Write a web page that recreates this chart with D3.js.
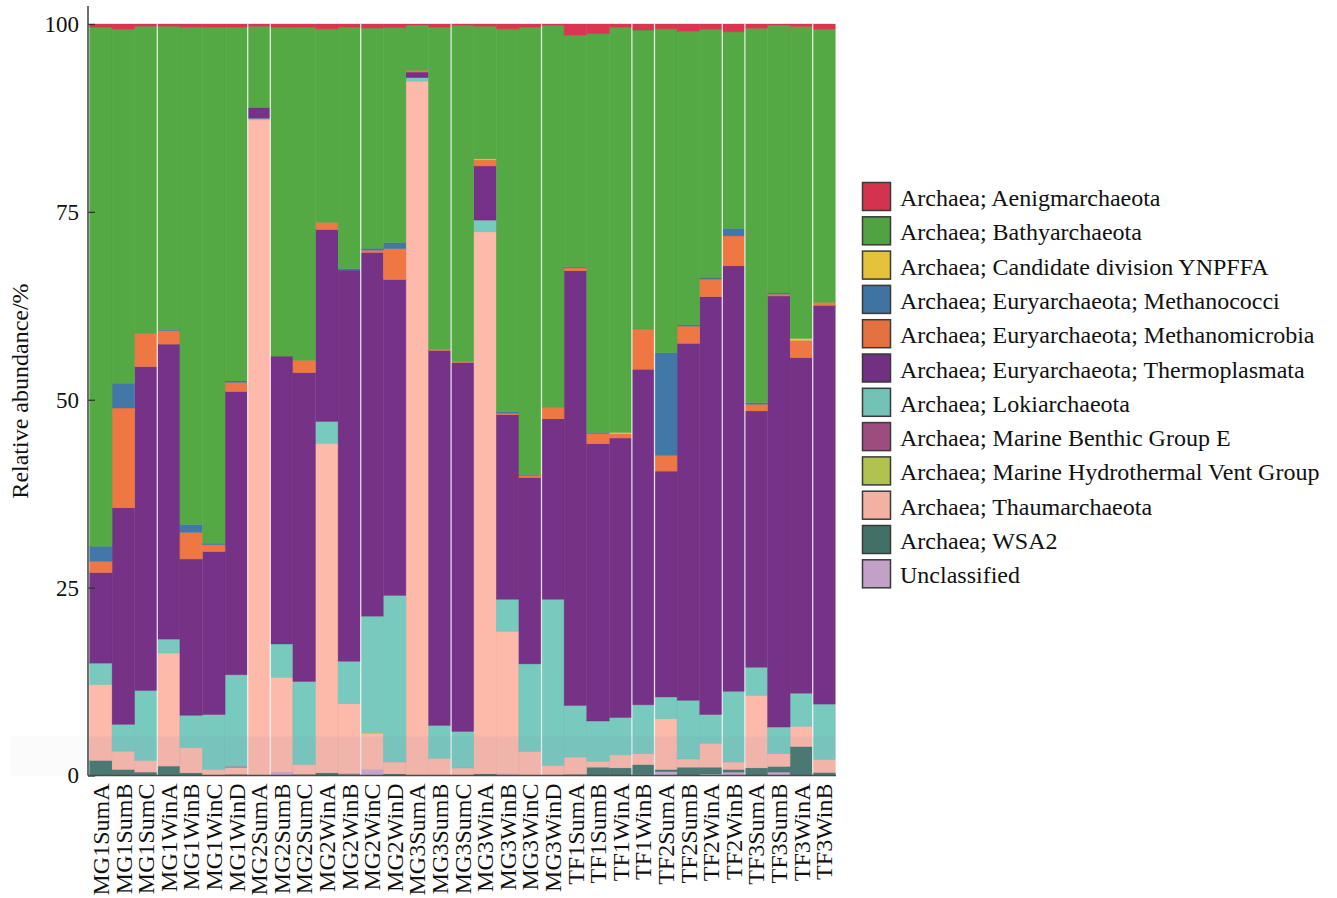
<!DOCTYPE html>
<html>
<head>
<meta charset="utf-8">
<script src="https://cdn.jsdelivr.net/npm/d3@7"></script>
<style>
  html, body { margin: 0; padding: 0; background: #fff; }
  svg { display: block; }
  text { font-family: "Liberation Serif", "Times New Roman", serif; fill: #111; }
</style>
</head>
<body>
<svg id="chart" width="1337" height="898"></svg>
<script>
// Samples along the x axis
const samples = [
  "MG1SumA","MG1SumB","MG1SumC","MG1WinA","MG1WinB","MG1WinC","MG1WinD",
  "MG2SumA","MG2SumB","MG2SumC","MG2WinA","MG2WinB","MG2WinC","MG2WinD",
  "MG3SumA","MG3SumB","MG3SumC","MG3WinA","MG3WinB","MG3WinC","MG3WinD",
  "TF1SumA","TF1SumB","TF1WinA","TF1WinB",
  "TF2SumA","TF2SumB","TF2WinA","TF2WinB",
  "TF3SumA","TF3SumB","TF3WinA","TF3WinB"
];

// Taxa in legend order (top of stack first)
const taxa = [
  "Archaea; Aenigmarchaeota",
  "Archaea; Bathyarchaeota",
  "Archaea; Candidate division YNPFFA",
  "Archaea; Euryarchaeota; Methanococci",
  "Archaea; Euryarchaeota; Methanomicrobia",
  "Archaea; Euryarchaeota; Thermoplasmata",
  "Archaea; Lokiarchaeota",
  "Archaea; Marine Benthic Group E",
  "Archaea; Marine Hydrothermal Vent Group",
  "Archaea; Thaumarchaeota",
  "Archaea; WSA2",
  "Unclassified"
];

const taxonColors = [
  "#dc3551", "#55a945", "#efca3f", "#4278a8", "#ee7744", "#763287",
  "#77cabd", "#a44f85", "#bacb52", "#fdb9aa", "#44766a", "#c9a8cf"
];

// Relative abundance (%) per taxon, one value per sample
const aenigmarchaeota = [0.4,0.7,0.3,0.3,0.45,0.4,0.4,0.3,0.4,0.4,0.65,0.4,0.55,0.5,0.15,0.4,0.2,0.3,0.65,0.4,0.2,1.5,1.3,0.4,0.8,0.65,1.0,0.7,1.05,0.6,0.15,0.35,0.7];
const bathyarchaeota = [69.1,47.1,40.9,40.35,66.15,68.7,47.1,10.8,43.8,44.35,25.75,32.15,29.3,28.6,6.05,42.9,44.7,17.65,50.95,59.55,50.85,30.8,53.05,53.95,39.8,43.1,39.0,33.1,26.15,49.8,35.65,41.5,36.35];
const ynpffa = [0,0,0,0,0,0,0,0,0,0,0,0,0,0,0,0,0,0.15,0,0,0,0,0,0.15,0,0,0,0,0,0,0,0.25,0];
const methanococci = [2.0,3.3,0,0.15,1.05,0.2,0.2,0,0,0,0,0.2,0.25,0.8,0,0,0,0,0.2,0.15,0,0.15,0.15,0,0,13.65,0.2,0.15,1.0,0.2,0.15,0,0];
const methanomicrobia = [1.5,13.3,4.4,1.8,3.55,0.9,1.2,0,0,1.65,0.95,0,0.3,4.1,0.2,0.15,0.15,0.8,0.2,0.25,1.5,0.4,1.35,0.6,5.35,2.1,2.3,2.35,4.0,0.9,0.25,2.3,0.4];
const thermoplasmata = [12.05,28.8,43.1,39.25,20.8,21.7,37.7,1.45,38.3,41.1,25.55,52.05,48.4,42.05,0.75,49.9,49.1,7.2,24.55,24.8,24.0,57.85,36.9,37.2,44.65,30.05,47.5,55.6,56.6,34.1,57.35,44.65,53.05];
const lokiarchaeota = [2.85,3.55,9.3,1.85,4.3,7.3,12.2,0.2,4.45,11.05,2.9,5.65,15.45,22.15,0.45,4.35,4.85,1.55,4.25,11.65,22.1,6.85,5.35,4.95,6.5,2.9,7.8,3.8,9.4,3.75,3.55,4.4,7.35];
const marineBenthicE = [0,0,0,0,0,0,0.1,0,0,0,0,0,0,0,0,0,0,0,0,0,0,0,0,0,0,0,0,0,0,0,0,0,0];
const marineHydrothermal = [0,0,0,0,0,0,0,0,0,0,0,0,0.15,0,0,0,0,0,0,0,0,0,0,0,0,0,0,0,0,0,0,0,0];
const thaumarchaeota = [10.1,2.45,1.55,15.05,3.35,0.8,0.95,87.25,12.6,1.3,43.85,9.3,4.8,1.6,92.4,2.3,1.0,72.15,18.95,3.2,1.35,2.3,0.8,1.75,1.45,6.75,1.1,3.2,1.0,9.65,1.7,2.7,1.75];
const wsa2 = [2.0,0.8,0.45,1.25,0.35,0,0.15,0,0,0.15,0.35,0.1,0,0.2,0,0,0,0.2,0,0,0,0.15,1.1,1.0,1.35,0.3,1.1,0.9,0.35,1.0,0.75,3.85,0.4];
const unclassified = [0,0,0,0,0,0,0,0,0.45,0,0,0.15,0.8,0,0,0,0,0,0.25,0,0,0,0,0,0.1,0.5,0,0.2,0.45,0,0.45,0,0];

const yTicks = [0, 25, 50, 75, 100];

// Bar indices after which a thin white separator shows
const separatorsAfter = [3, 7, 8, 12, 16, 20, 24, 25, 28, 29, 32];

const series = [aenigmarchaeota, bathyarchaeota, ynpffa, methanococci, methanomicrobia,
  thermoplasmata, lokiarchaeota, marineBenthicE, marineHydrothermal, thaumarchaeota, wsa2, unclassified];

const rows = samples.map((s, i) => {
  const r = { sample: s };
  taxa.forEach((t, k) => { r[t] = series[k][i]; });
  return r;
});

const svg = d3.select("#chart");
const plot = { left: 89.5, right: 835.3, top: 24, bottom: 775.5 };

const x = d3.scaleBand().domain(samples).range([plot.left, plot.right]).padding(0);
const y = d3.scaleLinear().domain([0, 100]).range([plot.bottom, plot.top]);
const color = d3.scaleOrdinal().domain(taxa).range(taxonColors);

// Stack from the bottom: Unclassified first, Aenigmarchaeota on top
const stackKeys = taxa.slice().reverse();
const stacked = d3.stack().keys(stackKeys)(rows);

const gBars = svg.append("g");
gBars.selectAll("g.layer")
  .data(stacked)
  .join("g")
  .attr("class", "layer")
  .attr("fill", d => color(d.key))
  .attr("stroke", d => d3.color(color(d.key)).darker(0.35))
  .attr("stroke-width", 0.5)
  .attr("stroke-opacity", 0.6)
  .selectAll("rect")
  .data(d => d.filter(p => p[1] - p[0] > 0))
  .join("rect")
  .attr("x", p => x(p.data.sample))
  .attr("width", x.bandwidth())
  .attr("y", p => y(p[1]))
  .attr("height", p => y(p[0]) - y(p[1]));

// Thin white separators between some bars
svg.append("g")
  .selectAll("line")
  .data(separatorsAfter)
  .join("line")
  .attr("x1", i => x(samples[i - 1]) + x.bandwidth())
  .attr("x2", i => x(samples[i - 1]) + x.bandwidth())
  .attr("y1", y(100))
  .attr("y2", y(0))
  .attr("stroke", "#ffffff")
  .attr("stroke-opacity", 0.8)
  .attr("stroke-width", 1.3);

// Faint shaded strip along the base of the plot
svg.append("rect")
  .attr("x", 10).attr("width", 88 - 10)
  .attr("y", y(5.2)).attr("height", y(0) - y(5.2))
  .attr("fill", "rgb(140,140,170)").attr("fill-opacity", 0.03);
svg.append("rect")
  .attr("x", 88).attr("width", plot.right - 88)
  .attr("y", y(5.2)).attr("height", y(0) - y(5.2))
  .attr("fill", "rgb(140,140,190)").attr("fill-opacity", 0.1);

// Y axis
const yAxis = svg.append("g")
  .attr("transform", "translate(88,0)")
  .call(d3.axisLeft(y).tickValues(yTicks).tickSizeInner(-7).tickSizeOuter(0).tickPadding(9));
yAxis.select(".domain").remove();
yAxis.selectAll(".tick line").attr("stroke", "#333").attr("stroke-width", 1.3);
yAxis.selectAll(".tick text")
  .style("font-family", "'Liberation Serif', serif")
  .style("font-size", "23px")
  .attr("fill", "#111");
svg.append("line")
  .attr("x1", 88).attr("x2", 88)
  .attr("y1", 6).attr("y2", plot.bottom)
  .attr("stroke", "#4a4a4a").attr("stroke-width", 1.6);

// X axis
const xAxis = svg.append("g")
  .attr("transform", `translate(0,${plot.bottom})`)
  .call(d3.axisBottom(x).tickSize(0).tickPadding(0));
xAxis.select(".domain").remove();
xAxis.selectAll(".tick text")
  .style("font-family", "'Liberation Serif', serif")
  .style("font-size", "24px")
  .attr("fill", "#111")
  .attr("text-anchor", "end")
  .attr("transform", "translate(0,8) rotate(-90)")
  .attr("x", 0)
  .attr("y", 0)
  .attr("dy", "0.34em");
svg.append("line")
  .attr("x1", 88).attr("x2", 836)
  .attr("y1", plot.bottom).attr("y2", plot.bottom)
  .attr("stroke", "#4a4a4a").attr("stroke-width", 1.6);

// Y axis title
svg.append("text")
  .attr("transform", `translate(28,391) rotate(-90)`)
  .attr("text-anchor", "middle")
  .style("font-size", "24px")
  .text("Relative abundance/%");

// Legend
const legend = svg.append("g").attr("transform", "translate(862.5,182.5)");
const rowH = 34.3;
const item = legend.selectAll("g")
  .data(taxa)
  .join("g")
  .attr("transform", (d, i) => `translate(0,${i * rowH})`);
item.append("rect")
  .attr("width", 28).attr("height", 28)
  .attr("fill", d => d3.color(color(d)).darker(0.12))
  .attr("stroke", "#3a3a3a")
  .attr("stroke-width", 1.5);
item.append("text")
  .attr("x", 37.5)
  .attr("y", 23.5)
  .style("font-size", "24px")
  .text(d => d);
</script>
</body>
</html>
